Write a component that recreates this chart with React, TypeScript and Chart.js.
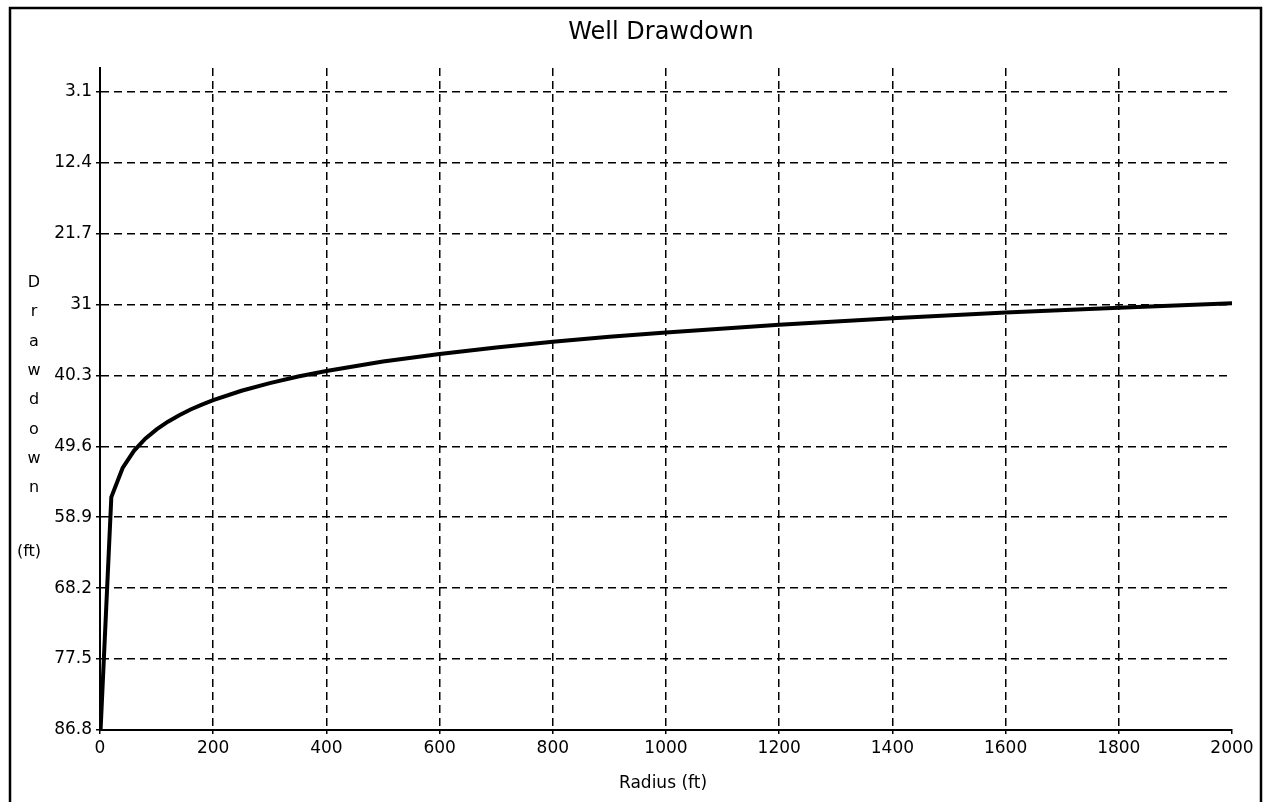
import React, { useEffect, useRef } from "react";
import { Chart, registerables } from "chart.js";

Chart.register(...registerables);

// ---- data ----
const radius = [1, 20, 40, 60, 80, 100, 120, 140, 160, 180, 200, 250, 300, 350, 400, 500, 600, 700, 800, 900, 1000, 1200, 1400, 1600, 1800, 2000];
const drawdown = [86.8, 56.26, 52.44, 50.2, 48.61, 47.38, 46.37, 45.52, 44.78, 44.13, 43.55, 42.32, 41.32, 40.46, 39.73, 38.49, 37.49, 36.64, 35.9, 35.25, 34.67, 33.66, 32.81, 32.07, 31.42, 30.84];
const yTickValues = [3.1, 12.4, 21.7, 31, 40.3, 49.6, 58.9, 68.2, 77.5, 86.8];
const xTickValues = [0, 200, 400, 600, 800, 1000, 1200, 1400, 1600, 1800, 2000];
const chartTitle = "Well Drawdown";
const xAxisTitle = "Radius (ft)";
const yTitleLetters = ["D", "r", "a", "w", "d", "o", "w", "n"];
const yTitleUnit = "(ft)";

const FONT = "'DejaVu Sans', 'Liberation Sans', Arial, sans-serif";

const decorPlugin = {
  id: "decor",
  afterDraw(chart: any) {
    const ctx = chart.ctx as CanvasRenderingContext2D;
    const area = chart.chartArea;
    ctx.save();
    // outer frame
    ctx.strokeStyle = "#000";
    ctx.lineWidth = 2.5;
    ctx.strokeRect(10, 8, 1251, 830);
    ctx.fillStyle = "#000";
    // title
    ctx.font = `24px ${FONT}`;
    ctx.textAlign = "center";
    ctx.textBaseline = "alphabetic";
    ctx.fillText(chartTitle, 661, 39);
    // x axis title
    ctx.font = `17px ${FONT}`;
    ctx.fillText(xAxisTitle, (area.left + area.right) / 2 - 3, 788);
    // y axis title, stacked letters
    ctx.font = `16px ${FONT}`;
    yTitleLetters.forEach((ch, i) => {
      ctx.fillText(ch, 34, 287 + i * 29.3);
    });
    ctx.fillText(yTitleUnit, 29, 556);
    ctx.restore();
  },
};

export default function App() {
  const canvasRef = useRef<HTMLCanvasElement | null>(null);

  useEffect(() => {
    const canvas = canvasRef.current;
    if (!canvas) return;
    const points = radius.map((r, i) => ({ x: r, y: drawdown[i] }));
    const chart = new Chart(canvas, {
      type: "line",
      data: {
        datasets: [
          {
            label: "Drawdown",
            data: points,
            borderColor: "#000",
            backgroundColor: "#000",
            borderWidth: 4,
            pointRadius: 0,
            tension: 0,
            fill: false,
          },
        ],
      },
      options: {
        animation: false,
        responsive: false,
        layout: { padding: { top: 68, right: 31, left: 0, bottom: 0 } },
        plugins: {
          legend: { display: false },
          title: { display: false },
          tooltip: { enabled: false },
        },
        scales: {
          x: {
            type: "linear",
            min: 0,
            max: 2000,
            afterBuildTicks: (scale: any) => {
              scale.ticks = xTickValues.map((v) => ({ value: v }));
            },
            afterFit: (scale: any) => {
              scale.height = 72;
            },
            ticks: {
              color: "#000",
              font: { family: FONT, size: 17 },
              padding: 4,
              maxRotation: 0,
              autoSkip: false,
              callback: (v: any) => String(v),
            },
            grid: {
              color: (c: any) => (c.tick && (c.tick.value === 2000 || c.tick.value === 0) ? "rgba(0,0,0,0)" : "#000"),
              lineWidth: 1.5,
              tickLength: 4,
              tickColor: "#000",
              drawTicks: true,
            },
            border: { display: true, color: "#000", width: 2, dash: [8, 5] },
          },
          y: {
            type: "linear",
            reverse: true,
            min: 0,
            max: 86.8,
            afterBuildTicks: (scale: any) => {
              scale.ticks = yTickValues.map((v) => ({ value: v }));
            },
            afterFit: (scale: any) => {
              scale.width = 100;
            },
            ticks: {
              color: "#000",
              font: { family: FONT, size: 17 },
              padding: 4,
              autoSkip: false,
              callback: (v: any) => String(v),
            },
            grid: {
              color: (c: any) => (c.tick && c.tick.value === 86.8 ? "rgba(0,0,0,0)" : "#000"),
              lineWidth: 1.5,
              tickLength: 4,
              tickColor: "#000",
              drawTicks: true,
            },
            border: { display: true, color: "#000", width: 2, dash: [8, 5] },
          },
        },
      },
      plugins: [decorPlugin],
    } as any);
    return () => chart.destroy();
  }, []);

  return (
    <div style={{ position: "fixed", left: 0, top: 0, width: 1263, height: 802, background: "#fff" }}>
      <canvas ref={canvasRef} width={1263} height={802} style={{ display: "block", width: 1263, height: 802 }} />
    </div>
  );
}
